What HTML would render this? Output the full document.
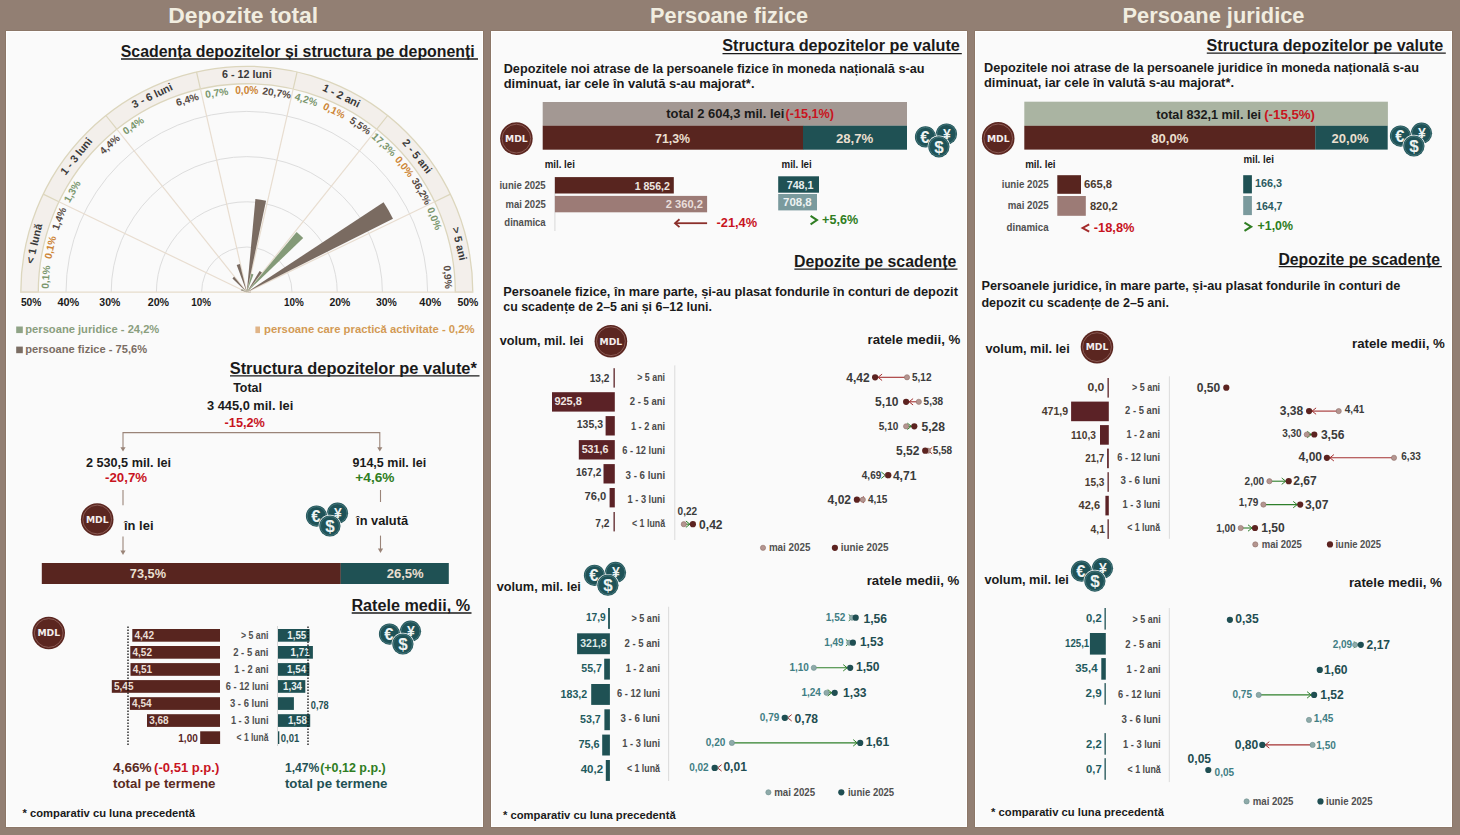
<!DOCTYPE html>
<html><head><meta charset="utf-8"><title>Depozite</title>
<style>html,body{margin:0;padding:0;width:1460px;height:835px;overflow:hidden;background:#927f73}
svg{display:block} text{font-family:'Liberation Sans', Arial, sans-serif;font-weight:700}</style></head>
<body><svg width="1460" height="835" viewBox="0 0 1460 835">
<rect x="0.0" y="0.0" width="1460.0" height="835.0" fill="#927f73"/>
<rect x="5.5" y="30.5" width="478.0" height="797.0" fill="#86705f"/>
<rect x="6.0" y="31.0" width="477.0" height="796.0" fill="#ffffff"/>
<rect x="7.0" y="32.0" width="475.0" height="794.0" fill="#fafafa"/>
<rect x="490.5" y="30.5" width="477.0" height="797.0" fill="#86705f"/>
<rect x="491.0" y="31.0" width="476.0" height="796.0" fill="#ffffff"/>
<rect x="492.0" y="32.0" width="474.0" height="794.0" fill="#fafafa"/>
<rect x="974.5" y="30.5" width="478.0" height="797.0" fill="#86705f"/>
<rect x="975.0" y="31.0" width="477.0" height="796.0" fill="#ffffff"/>
<rect x="976.0" y="32.0" width="475.0" height="794.0" fill="#fafafa"/>
<text x="243.2" y="22.7" font-size="21.5" fill="#f1ede0" text-anchor="middle" textLength="150.0" lengthAdjust="spacingAndGlyphs">Depozite total</text>
<text x="729.1" y="22.7" font-size="21.5" fill="#f1ede0" text-anchor="middle" textLength="158.0" lengthAdjust="spacingAndGlyphs">Persoane fizice</text>
<text x="1213.5" y="22.7" font-size="21.5" fill="#f1ede0" text-anchor="middle" textLength="182.0" lengthAdjust="spacingAndGlyphs">Persoane juridice</text>
<text x="120.7" y="56.8" font-size="16" fill="#1a1a1a" textLength="354.1" lengthAdjust="spacingAndGlyphs">Scadența depozitelor și structura pe deponenți</text>
<line x1="121.0" y1="59.0" x2="478.0" y2="59.0" stroke="#1a1a1a" stroke-width="1.3"/>
<path d="M20.8,292.2 A226.0,226.0 0 0 1 472.8,292.2 L455.3,292.2 A208.5,208.5 0 0 0 38.3,292.2 Z" fill="#f3efeb" stroke="#dcd6bd" stroke-width="1.3"/>
<line x1="58.9" y1="201.7" x2="43.2" y2="194.1" stroke="#dcd6bd" stroke-width="1.2"/>
<line x1="116.8" y1="129.2" x2="105.9" y2="115.5" stroke="#dcd6bd" stroke-width="1.2"/>
<line x1="200.4" y1="88.9" x2="196.5" y2="71.9" stroke="#dcd6bd" stroke-width="1.2"/>
<line x1="293.2" y1="88.9" x2="297.1" y2="71.9" stroke="#dcd6bd" stroke-width="1.2"/>
<line x1="376.8" y1="129.2" x2="387.7" y2="115.5" stroke="#dcd6bd" stroke-width="1.2"/>
<line x1="434.7" y1="201.7" x2="450.4" y2="194.1" stroke="#dcd6bd" stroke-width="1.2"/>
<path d="M201.6,292.2 A45.2,45.2 0 0 1 292.0,292.2" fill="none" stroke="#dddddd" stroke-width="1"/>
<path d="M156.4,292.2 A90.4,90.4 0 0 1 337.2,292.2" fill="none" stroke="#dddddd" stroke-width="1"/>
<path d="M111.2,292.2 A135.6,135.6 0 0 1 382.4,292.2" fill="none" stroke="#dddddd" stroke-width="1"/>
<path d="M66.0,292.2 A180.8,180.8 0 0 1 427.6,292.2" fill="none" stroke="#dddddd" stroke-width="1"/>
<line x1="246.8" y1="292.2" x2="58.9" y2="201.7" stroke="#e8ddd0" stroke-width="1.2"/>
<line x1="246.8" y1="292.2" x2="116.8" y2="129.2" stroke="#e8ddd0" stroke-width="1.2"/>
<line x1="246.8" y1="292.2" x2="200.4" y2="88.9" stroke="#e8ddd0" stroke-width="1.2"/>
<line x1="246.8" y1="292.2" x2="293.2" y2="88.9" stroke="#e8ddd0" stroke-width="1.2"/>
<line x1="246.8" y1="292.2" x2="376.8" y2="129.2" stroke="#e8ddd0" stroke-width="1.2"/>
<line x1="246.8" y1="292.2" x2="434.7" y2="201.7" stroke="#e8ddd0" stroke-width="1.2"/>
<line x1="20.5" y1="292.2" x2="473.0" y2="292.2" stroke="#e6dccb" stroke-width="1.2"/>
<path d="M246.8,292.2 L246.35,292.19 A0.45,0.45 0 0 1 246.35,292.14 Z" fill="#849a78"/>
<path d="M246.8,292.2 L246.35,292.12 A0.45,0.45 0 0 1 246.37,292.07 Z" fill="#d7a56a"/>
<path d="M246.8,292.2 L240.79,290.23 A6.33,6.33 0 0 1 241.05,289.55 Z" fill="#7a6b61"/>
<path d="M246.8,292.2 L241.55,289.56 A5.88,5.88 0 0 1 241.89,288.97 Z" fill="#849a78"/>
<path d="M246.8,292.2 L232.46,278.42 A19.89,19.89 0 0 1 234.13,276.87 Z" fill="#7a6b61"/>
<path d="M246.8,292.2 L245.70,290.77 A1.81,1.81 0 0 1 245.87,290.65 Z" fill="#849a78"/>
<path d="M246.8,292.2 L236.70,265.09 A28.93,28.93 0 0 1 239.88,264.11 Z" fill="#7a6b61"/>
<path d="M246.8,292.2 L246.15,289.10 A3.16,3.16 0 0 1 246.51,289.05 Z" fill="#849a78"/>
<path d="M246.8,292.2 L255.40,199.03 A93.56,93.56 0 0 1 266.05,200.64 Z" fill="#7a6b61"/>
<path d="M246.8,292.2 L251.34,273.77 A18.98,18.98 0 0 1 253.43,274.41 Z" fill="#849a78"/>
<path d="M246.8,292.2 L246.97,291.78 A0.45,0.45 0 0 1 247.02,291.80 Z" fill="#d7a56a"/>
<path d="M246.8,292.2 L259.60,270.89 A24.86,24.86 0 0 1 261.96,272.50 Z" fill="#7a6b61"/>
<path d="M246.8,292.2 L296.60,231.91 A78.20,78.20 0 0 1 303.20,238.03 Z" fill="#849a78"/>
<path d="M246.8,292.2 L383.56,202.37 A163.62,163.62 0 0 1 392.98,218.68 Z" fill="#7a6b61"/>
<path d="M246.8,292.2 L250.83,291.66 A4.07,4.07 0 0 1 250.87,292.13 Z" fill="#7a6b61"/>
<text x="0" y="3.4" font-size="10.2" fill="#7b976e" text-anchor="middle" transform="translate(45.9,277.1) rotate(-85.7)">0,1%</text>
<text x="0" y="3.4" font-size="10.2" fill="#cd8536" text-anchor="middle" transform="translate(50.4,247.4) rotate(-77.1)">0,1%</text>
<text x="0" y="3.4" font-size="10.2" fill="#574b44" text-anchor="middle" transform="translate(59.2,218.6) rotate(-68.6)">1,4%</text>
<text x="0" y="3.4" font-size="10.2" fill="#7b976e" text-anchor="middle" transform="translate(72.3,191.4) rotate(-60.0)">1,3%</text>
<text x="0" y="3.4" font-size="10.2" fill="#574b44" text-anchor="middle" transform="translate(109.7,144.5) rotate(-42.9)">4,4%</text>
<text x="0" y="3.4" font-size="10.2" fill="#7b976e" text-anchor="middle" transform="translate(133.3,125.7) rotate(-34.3)">0,4%</text>
<text x="0" y="3.4" font-size="10.2" fill="#574b44" text-anchor="middle" transform="translate(187.4,99.7) rotate(-17.1)">6,4%</text>
<text x="0" y="3.4" font-size="10.2" fill="#7b976e" text-anchor="middle" transform="translate(216.8,93.0) rotate(-8.6)">0,7%</text>
<text x="0" y="3.4" font-size="10.2" fill="#cd8536" text-anchor="middle" transform="translate(246.8,90.7) rotate(0.0)">0,0%</text>
<text x="0" y="3.4" font-size="10.2" fill="#574b44" text-anchor="middle" transform="translate(276.8,93.0) rotate(8.6)">20,7%</text>
<text x="0" y="3.4" font-size="10.2" fill="#7b976e" text-anchor="middle" transform="translate(306.2,99.7) rotate(17.1)">4,2%</text>
<text x="0" y="3.4" font-size="10.2" fill="#cd8536" text-anchor="middle" transform="translate(334.2,110.7) rotate(25.7)">0,1%</text>
<text x="0" y="3.4" font-size="10.2" fill="#574b44" text-anchor="middle" transform="translate(360.3,125.7) rotate(34.3)">5,5%</text>
<text x="0" y="3.4" font-size="10.2" fill="#7b976e" text-anchor="middle" transform="translate(383.9,144.5) rotate(42.9)">17,3%</text>
<text x="0" y="3.4" font-size="10.2" fill="#cd8536" text-anchor="middle" transform="translate(404.3,166.6) rotate(51.4)">0,0%</text>
<text x="0" y="3.4" font-size="10.2" fill="#574b44" text-anchor="middle" transform="translate(421.3,191.4) rotate(60.0)">36,2%</text>
<text x="0" y="3.4" font-size="10.2" fill="#7b976e" text-anchor="middle" transform="translate(434.4,218.6) rotate(68.6)">0,0%</text>
<text x="0" y="3.4" font-size="10.2" fill="#574b44" text-anchor="middle" transform="translate(447.7,277.1) rotate(85.7)">0,9%</text>
<text x="0" y="3.8" font-size="10.8" fill="#3a3a3a" text-anchor="middle" transform="translate(34.1,243.6) rotate(-77.1)">&lt; 1 lună</text>
<text x="0" y="3.8" font-size="10.8" fill="#3a3a3a" text-anchor="middle" transform="translate(76.2,156.2) rotate(-51.4)">1 - 3 luni</text>
<text x="0" y="3.8" font-size="10.8" fill="#3a3a3a" text-anchor="middle" transform="translate(152.1,95.6) rotate(-25.7)">3 - 6 luni</text>
<text x="0" y="3.8" font-size="10.8" fill="#3a3a3a" text-anchor="middle" transform="translate(246.8,74.0) rotate(0.0)">6 - 12 luni</text>
<text x="0" y="3.8" font-size="10.8" fill="#3a3a3a" text-anchor="middle" transform="translate(341.5,95.6) rotate(25.7)">1 - 2 ani</text>
<text x="0" y="3.8" font-size="10.8" fill="#3a3a3a" text-anchor="middle" transform="translate(417.4,156.2) rotate(51.4)">2 - 5 ani</text>
<text x="0" y="3.8" font-size="10.8" fill="#3a3a3a" text-anchor="middle" transform="translate(459.5,243.6) rotate(77.1)">&gt; 5 ani</text>
<text x="20.9" y="305.8" font-size="10" fill="#1a1a1a" textLength="20.5" lengthAdjust="spacingAndGlyphs">50%</text>
<text x="57.4" y="305.8" font-size="10" fill="#1a1a1a" textLength="21.8" lengthAdjust="spacingAndGlyphs">40%</text>
<text x="99.3" y="305.8" font-size="10" fill="#1a1a1a" textLength="21.0" lengthAdjust="spacingAndGlyphs">30%</text>
<text x="147.7" y="305.8" font-size="10" fill="#1a1a1a" textLength="21.4" lengthAdjust="spacingAndGlyphs">20%</text>
<text x="191.3" y="305.8" font-size="10" fill="#1a1a1a" textLength="19.8" lengthAdjust="spacingAndGlyphs">10%</text>
<text x="284.1" y="305.8" font-size="10" fill="#1a1a1a" textLength="19.8" lengthAdjust="spacingAndGlyphs">10%</text>
<text x="329.4" y="305.8" font-size="10" fill="#1a1a1a" textLength="20.9" lengthAdjust="spacingAndGlyphs">20%</text>
<text x="375.9" y="305.8" font-size="10" fill="#1a1a1a" textLength="20.9" lengthAdjust="spacingAndGlyphs">30%</text>
<text x="419.3" y="305.8" font-size="10" fill="#1a1a1a" textLength="21.9" lengthAdjust="spacingAndGlyphs">40%</text>
<text x="457.4" y="305.8" font-size="10" fill="#1a1a1a" textLength="21.0" lengthAdjust="spacingAndGlyphs">50%</text>
<rect x="16.2" y="326.5" width="6.6" height="6.6" fill="#8fa386"/>
<text x="25.3" y="332.8" font-size="10.5" fill="#8a9e7e" textLength="134.0" lengthAdjust="spacingAndGlyphs">persoane juridice - 24,2%</text>
<rect x="16.2" y="346.6" width="6.6" height="6.6" fill="#7b6d63"/>
<text x="25.3" y="352.8" font-size="10.5" fill="#7b6d63" textLength="121.8" lengthAdjust="spacingAndGlyphs">persoane fizice - 75,6%</text>
<rect x="255.4" y="326.5" width="4.6" height="6.6" fill="#e0b487"/>
<text x="264.1" y="332.8" font-size="10.5" fill="#d39a55" textLength="210.4" lengthAdjust="spacingAndGlyphs">persoane care practică activitate - 0,2%</text>
<text x="229.7" y="373.6" font-size="16" fill="#1a1a1a" textLength="247.2" lengthAdjust="spacingAndGlyphs">Structura depozitelor pe valute*</text>
<line x1="230.0" y1="375.8" x2="479.5" y2="375.8" stroke="#1a1a1a" stroke-width="1.3"/>
<text x="233.2" y="391.6" font-size="12.5" fill="#1a1a1a" textLength="28.8" lengthAdjust="spacingAndGlyphs">Total</text>
<text x="207.0" y="410.4" font-size="12.5" fill="#1a1a1a" textLength="86.3" lengthAdjust="spacingAndGlyphs">3 445,0 mil. lei</text>
<text x="224.6" y="426.5" font-size="12.5" fill="#c8141e" textLength="40.3" lengthAdjust="spacingAndGlyphs">-15,2%</text>
<path d="M123,449 L123,432.6 L379.8,432.6 L379.8,449" fill="none" stroke="#9a8478" stroke-width="1.1"/>
<path d="M120.4,447.2 L125.6,447.2 L123.0,451.6 Z" fill="#9a8478"/>
<path d="M377.2,447.2 L382.4,447.2 L379.8,451.6 Z" fill="#9a8478"/>
<text x="85.9" y="467.0" font-size="12.5" fill="#1a1a1a" textLength="85.2" lengthAdjust="spacingAndGlyphs">2 530,5 mil. lei</text>
<text x="105.0" y="481.6" font-size="12.5" fill="#c8141e" textLength="42.1" lengthAdjust="spacingAndGlyphs">-20,7%</text>
<text x="352.5" y="467.0" font-size="12.5" fill="#1a1a1a" textLength="73.7" lengthAdjust="spacingAndGlyphs">914,5 mil. lei</text>
<text x="355.3" y="481.6" font-size="12.5" fill="#2f7d22" textLength="39.2" lengthAdjust="spacingAndGlyphs">+4,6%</text>
<line x1="123.0" y1="490.0" x2="123.0" y2="505.3" stroke="#9a8478" stroke-width="1.1"/>
<line x1="380.5" y1="490.0" x2="380.5" y2="502.0" stroke="#9a8478" stroke-width="1.1"/>
<line x1="123.0" y1="536.5" x2="123.0" y2="551.0" stroke="#9a8478" stroke-width="1.1"/>
<path d="M120.4,550.6 L125.6,550.6 L123.0,555.0 Z" fill="#9a8478"/>
<line x1="380.5" y1="535.6" x2="380.5" y2="549.0" stroke="#9a8478" stroke-width="1.1"/>
<path d="M377.9,548.6 L383.1,548.6 L380.5,553.0 Z" fill="#9a8478"/>
<circle cx="97.2" cy="519.5" r="16.3" fill="#5b2620"/>
<circle cx="97.2" cy="519.5" r="14.4" fill="none" stroke="#8d5f58" stroke-width="0.9"/>
<text x="97.2" y="522.8" font-size="8.9" fill="#f4eeee" text-anchor="middle" textLength="22.6" lengthAdjust="spacingAndGlyphs" style="font-family:'DejaVu Sans',sans-serif;font-weight:700">MDL</text>
<text x="124.0" y="530.4" font-size="12.5" fill="#1a1a1a" textLength="29.5" lengthAdjust="spacingAndGlyphs">în lei</text>
<circle cx="337.5" cy="513.2" r="11.3" fill="#fafafa"/>
<circle cx="337.5" cy="513.2" r="10.6" fill="#1f5257"/>
<circle cx="337.5" cy="513.2" r="9.5" fill="none" stroke="#4b7c80" stroke-width="0.8"/>
<text x="337.8" y="517.8" font-size="14" fill="#eef3f2" text-anchor="middle">¥</text>
<circle cx="316.5" cy="516.1" r="11.3" fill="#fafafa"/>
<circle cx="316.5" cy="516.1" r="10.6" fill="#1f5257"/>
<circle cx="316.5" cy="516.1" r="9.5" fill="none" stroke="#4b7c80" stroke-width="0.8"/>
<text x="315.8" y="522.0" font-size="16.5" fill="#eef3f2" text-anchor="middle">€</text>
<circle cx="329.9" cy="526.0" r="11.3" fill="#fafafa"/>
<circle cx="329.9" cy="526.0" r="10.6" fill="#1f5257"/>
<circle cx="329.9" cy="526.0" r="9.5" fill="none" stroke="#4b7c80" stroke-width="0.8"/>
<text x="329.9" y="531.9" font-size="17" fill="#eef3f2" text-anchor="middle" font-weight="400">$</text>
<text x="356.1" y="525.3" font-size="12.5" fill="#1a1a1a" textLength="52.0" lengthAdjust="spacingAndGlyphs">în valută</text>
<rect x="41.8" y="563.0" width="299.0" height="21.0" fill="#58251f"/>
<rect x="340.7" y="563.0" width="108.1" height="21.0" fill="#1f5154"/>
<text x="129.8" y="578.4" font-size="12.5" fill="#eadfcf" textLength="36.2" lengthAdjust="spacingAndGlyphs">73,5%</text>
<text x="386.7" y="578.4" font-size="12.5" fill="#eadfcf" textLength="37.0" lengthAdjust="spacingAndGlyphs">26,5%</text>
<text x="351.4" y="610.8" font-size="16" fill="#1a1a1a" textLength="118.7" lengthAdjust="spacingAndGlyphs">Ratele medii, %</text>
<line x1="351.7" y1="613.0" x2="471.5" y2="613.0" stroke="#1a1a1a" stroke-width="1.3"/>
<circle cx="48.7" cy="633.0" r="16.3" fill="#5b2620"/>
<circle cx="48.7" cy="633.0" r="14.4" fill="none" stroke="#8d5f58" stroke-width="0.9"/>
<text x="48.7" y="636.3" font-size="8.9" fill="#f4eeee" text-anchor="middle" textLength="22.6" lengthAdjust="spacingAndGlyphs" style="font-family:'DejaVu Sans',sans-serif;font-weight:700">MDL</text>
<circle cx="410.5" cy="631.2" r="11.3" fill="#fafafa"/>
<circle cx="410.5" cy="631.2" r="10.6" fill="#1f5257"/>
<circle cx="410.5" cy="631.2" r="9.5" fill="none" stroke="#4b7c80" stroke-width="0.8"/>
<text x="410.8" y="635.8" font-size="14" fill="#eef3f2" text-anchor="middle">¥</text>
<circle cx="389.5" cy="634.1" r="11.3" fill="#fafafa"/>
<circle cx="389.5" cy="634.1" r="10.6" fill="#1f5257"/>
<circle cx="389.5" cy="634.1" r="9.5" fill="none" stroke="#4b7c80" stroke-width="0.8"/>
<text x="388.8" y="640.0" font-size="16.5" fill="#eef3f2" text-anchor="middle">€</text>
<circle cx="402.9" cy="644.0" r="11.3" fill="#fafafa"/>
<circle cx="402.9" cy="644.0" r="10.6" fill="#1f5257"/>
<circle cx="402.9" cy="644.0" r="9.5" fill="none" stroke="#4b7c80" stroke-width="0.8"/>
<text x="402.9" y="649.9" font-size="17" fill="#eef3f2" text-anchor="middle" font-weight="400">$</text>
<line x1="277.5" y1="626.0" x2="277.5" y2="746.0" stroke="#cfcfcf" stroke-width="0.8"/>
<rect x="132.3" y="629.0" width="87.7" height="12.7" fill="#58251f"/>
<text x="134.5" y="638.9" font-size="10.8" fill="#eadfd6" textLength="19.5" lengthAdjust="spacingAndGlyphs">4,42</text>
<text x="268.5" y="638.8" font-size="10.8" fill="#505050" text-anchor="end" textLength="27.5" lengthAdjust="spacingAndGlyphs">&gt; 5 ani</text>
<rect x="278.0" y="629.0" width="31.6" height="12.7" fill="#1f5154"/>
<text x="306.3" y="638.9" font-size="10.8" fill="#eaf0ef" text-anchor="end" textLength="19.0" lengthAdjust="spacingAndGlyphs">1,55</text>
<rect x="130.3" y="646.0" width="89.7" height="12.7" fill="#58251f"/>
<text x="132.5" y="655.9" font-size="10.8" fill="#eadfd6" textLength="19.5" lengthAdjust="spacingAndGlyphs">4,52</text>
<text x="268.5" y="655.8" font-size="10.8" fill="#505050" text-anchor="end" textLength="35.3" lengthAdjust="spacingAndGlyphs">2 - 5 ani</text>
<rect x="278.0" y="646.0" width="34.9" height="12.7" fill="#1f5154"/>
<text x="309.6" y="655.9" font-size="10.8" fill="#eaf0ef" text-anchor="end" textLength="19.0" lengthAdjust="spacingAndGlyphs">1,71</text>
<rect x="130.5" y="663.1" width="89.5" height="12.7" fill="#58251f"/>
<text x="132.7" y="673.0" font-size="10.8" fill="#eadfd6" textLength="19.5" lengthAdjust="spacingAndGlyphs">4,51</text>
<text x="268.5" y="672.9" font-size="10.8" fill="#505050" text-anchor="end" textLength="34.3" lengthAdjust="spacingAndGlyphs">1 - 2 ani</text>
<rect x="278.0" y="663.1" width="31.4" height="12.7" fill="#1f5154"/>
<text x="306.1" y="673.0" font-size="10.8" fill="#eaf0ef" text-anchor="end" textLength="19.0" lengthAdjust="spacingAndGlyphs">1,54</text>
<rect x="111.8" y="680.1" width="108.2" height="12.7" fill="#58251f"/>
<text x="114.0" y="690.0" font-size="10.8" fill="#eadfd6" textLength="19.5" lengthAdjust="spacingAndGlyphs">5,45</text>
<text x="268.5" y="689.9" font-size="10.8" fill="#505050" text-anchor="end" textLength="42.7" lengthAdjust="spacingAndGlyphs">6 - 12 luni</text>
<rect x="278.0" y="680.1" width="27.3" height="12.7" fill="#1f5154"/>
<text x="302.0" y="690.0" font-size="10.8" fill="#eaf0ef" text-anchor="end" textLength="19.0" lengthAdjust="spacingAndGlyphs">1,34</text>
<rect x="129.9" y="697.2" width="90.1" height="12.7" fill="#58251f"/>
<text x="132.1" y="707.1" font-size="10.8" fill="#eadfd6" textLength="19.5" lengthAdjust="spacingAndGlyphs">4,54</text>
<text x="268.5" y="707.0" font-size="10.8" fill="#505050" text-anchor="end" textLength="38.6" lengthAdjust="spacingAndGlyphs">3 - 6 luni</text>
<rect x="278.0" y="697.2" width="15.9" height="12.7" fill="#1f5154"/>
<text x="310.8" y="708.7" font-size="10.8" fill="#1f5154" textLength="17.9" lengthAdjust="spacingAndGlyphs">0,78</text>
<rect x="147.0" y="714.2" width="73.0" height="12.7" fill="#58251f"/>
<text x="149.2" y="724.1" font-size="10.8" fill="#eadfd6" textLength="19.5" lengthAdjust="spacingAndGlyphs">3,68</text>
<text x="268.5" y="724.0" font-size="10.8" fill="#505050" text-anchor="end" textLength="37.6" lengthAdjust="spacingAndGlyphs">1 - 3 luni</text>
<rect x="278.0" y="714.2" width="32.2" height="12.7" fill="#1f5154"/>
<text x="306.9" y="724.1" font-size="10.8" fill="#eaf0ef" text-anchor="end" textLength="19.0" lengthAdjust="spacingAndGlyphs">1,58</text>
<rect x="200.2" y="731.3" width="19.9" height="12.7" fill="#58251f"/>
<text x="197.8" y="741.5" font-size="10.8" fill="#58251f" text-anchor="end" textLength="19.5" lengthAdjust="spacingAndGlyphs">1,00</text>
<text x="268.5" y="741.1" font-size="10.8" fill="#505050" text-anchor="end" textLength="31.9" lengthAdjust="spacingAndGlyphs">&lt; 1 lună</text>
<rect x="278.0" y="731.3" width="1.3" height="12.7" fill="#1f5154"/>
<text x="280.8" y="741.5" font-size="10.8" fill="#1f5154" textLength="18.4" lengthAdjust="spacingAndGlyphs">0,01</text>
<line x1="128" y1="626.5" x2="128" y2="746" stroke="#111" stroke-width="1.3" stroke-dasharray="1.4,1.6"/>
<line x1="308" y1="626.5" x2="308" y2="746" stroke="#111" stroke-width="1.3" stroke-dasharray="1.4,1.6"/>
<text x="113.1" y="772.1" font-size="13.5" fill="#5a2a22" textLength="38.4" lengthAdjust="spacingAndGlyphs">4,66%</text>
<text x="154.1" y="772.1" font-size="13.5" fill="#c8141e" textLength="65.2" lengthAdjust="spacingAndGlyphs">(-0,51 p.p.)</text>
<text x="113.1" y="788.3" font-size="13.5" fill="#5a2a22" textLength="102.4" lengthAdjust="spacingAndGlyphs">total pe termene</text>
<text x="284.9" y="772.1" font-size="13.5" fill="#1f5154" textLength="34.4" lengthAdjust="spacingAndGlyphs">1,47%</text>
<text x="320.2" y="772.1" font-size="13.5" fill="#2f7d22" textLength="65.5" lengthAdjust="spacingAndGlyphs">(+0,12 p.p.)</text>
<text x="284.9" y="788.3" font-size="13.5" fill="#1f5154" textLength="102.6" lengthAdjust="spacingAndGlyphs">total pe termene</text>
<text x="22.5" y="816.5" font-size="10.8" fill="#1a1a1a" textLength="172.6" lengthAdjust="spacingAndGlyphs">* comparativ cu luna precedentă</text>
<text x="722.2" y="51.4" font-size="16" fill="#1a1a1a" textLength="237.6" lengthAdjust="spacingAndGlyphs">Structura depozitelor pe valute</text>
<line x1="722.5" y1="53.6" x2="961.8" y2="53.6" stroke="#1a1a1a" stroke-width="1.3"/>
<text x="503.7" y="73.0" font-size="12.5" fill="#1a1a1a" textLength="420.8" lengthAdjust="spacingAndGlyphs">Depozitele noi atrase de la persoanele fizice în moneda națională s-au</text>
<text x="503.7" y="88.4" font-size="12.5" fill="#1a1a1a" textLength="250.8" lengthAdjust="spacingAndGlyphs">diminuat, iar cele în valută s-au majorat*.</text>
<rect x="542.7" y="102.0" width="364.3" height="23.8" fill="#a39893"/>
<text x="666.3" y="118.2" font-size="12.5" fill="#1a1a1a" textLength="118.0" lengthAdjust="spacingAndGlyphs">total 2 604,3 mil. lei</text>
<text x="785.5" y="118.2" font-size="12.5" fill="#c8141e" textLength="48.4" lengthAdjust="spacingAndGlyphs">(-15,1%)</text>
<rect x="542.7" y="125.7" width="260.5" height="24.0" fill="#58251f"/>
<rect x="803.0" y="125.7" width="104.0" height="24.0" fill="#1f5154"/>
<text x="655.0" y="143.2" font-size="12.5" fill="#eadfcf" textLength="35.1" lengthAdjust="spacingAndGlyphs">71,3%</text>
<text x="835.9" y="143.2" font-size="12.5" fill="#eadfcf" textLength="37.4" lengthAdjust="spacingAndGlyphs">28,7%</text>
<circle cx="516.4" cy="138.6" r="16.3" fill="#5b2620"/>
<circle cx="516.4" cy="138.6" r="14.4" fill="none" stroke="#8d5f58" stroke-width="0.9"/>
<text x="516.4" y="141.9" font-size="8.9" fill="#f4eeee" text-anchor="middle" textLength="22.6" lengthAdjust="spacingAndGlyphs" style="font-family:'DejaVu Sans',sans-serif;font-weight:700">MDL</text>
<circle cx="946.5" cy="134.0" r="11.3" fill="#fafafa"/>
<circle cx="946.5" cy="134.0" r="10.6" fill="#1f5257"/>
<circle cx="946.5" cy="134.0" r="9.5" fill="none" stroke="#4b7c80" stroke-width="0.8"/>
<text x="946.8" y="138.6" font-size="14" fill="#eef3f2" text-anchor="middle">¥</text>
<circle cx="925.5" cy="136.9" r="11.3" fill="#fafafa"/>
<circle cx="925.5" cy="136.9" r="10.6" fill="#1f5257"/>
<circle cx="925.5" cy="136.9" r="9.5" fill="none" stroke="#4b7c80" stroke-width="0.8"/>
<text x="924.8" y="142.8" font-size="16.5" fill="#eef3f2" text-anchor="middle">€</text>
<circle cx="938.9" cy="146.8" r="11.3" fill="#fafafa"/>
<circle cx="938.9" cy="146.8" r="10.6" fill="#1f5257"/>
<circle cx="938.9" cy="146.8" r="9.5" fill="none" stroke="#4b7c80" stroke-width="0.8"/>
<text x="938.9" y="152.7" font-size="17" fill="#eef3f2" text-anchor="middle" font-weight="400">$</text>
<text x="544.7" y="167.5" font-size="10" fill="#1a1a1a" textLength="30.2" lengthAdjust="spacingAndGlyphs">mil. lei</text>
<text x="781.5" y="167.5" font-size="10" fill="#1a1a1a" textLength="30.2" lengthAdjust="spacingAndGlyphs">mil. lei</text>
<text x="499.4" y="188.8" font-size="10.5" fill="#505050" textLength="46.3" lengthAdjust="spacingAndGlyphs">iunie 2025</text>
<text x="505.6" y="207.8" font-size="10.5" fill="#505050" textLength="40.1" lengthAdjust="spacingAndGlyphs">mai 2025</text>
<text x="504.3" y="225.8" font-size="10.5" fill="#505050" textLength="41.4" lengthAdjust="spacingAndGlyphs">dinamica</text>
<line x1="554.9" y1="177.0" x2="554.9" y2="231.0" stroke="#d0d0d0" stroke-width="0.8"/>
<rect x="554.9" y="177.1" width="118.9" height="16.4" fill="#58251f"/>
<text x="634.7" y="190.1" font-size="11.5" fill="#efe6e0" textLength="35.2" lengthAdjust="spacingAndGlyphs">1 856,2</text>
<rect x="554.9" y="195.9" width="152.2" height="16.4" fill="#9c7b76"/>
<text x="665.7" y="208.4" font-size="11.5" fill="#e9dedb" textLength="37.2" lengthAdjust="spacingAndGlyphs">2 360,2</text>
<line x1="676.0" y1="223.2" x2="707.1" y2="223.2" stroke="#8b2f2a" stroke-width="1.8"/>
<path d="M679.5,219.3 L675,223.2 L679.5,227.1" fill="none" stroke="#8b2f2a" stroke-width="1.8"/>
<text x="716.5" y="226.6" font-size="13.5" fill="#c8141e" textLength="40.6" lengthAdjust="spacingAndGlyphs">-21,4%</text>
<rect x="778.2" y="176.3" width="40.8" height="16.4" fill="#1f5154"/>
<text x="786.7" y="188.8" font-size="11.5" fill="#e8efee" textLength="26.8" lengthAdjust="spacingAndGlyphs">748,1</text>
<rect x="778.2" y="194.0" width="38.8" height="16.4" fill="#7a9a9d"/>
<text x="783.1" y="205.8" font-size="11.5" fill="#eef2f2" textLength="28.6" lengthAdjust="spacingAndGlyphs">708,8</text>
<path d="M810.6,215.8 L817,220.1 L810.6,224.4" fill="none" stroke="#2f7d22" stroke-width="2"/>
<text x="822.1" y="224.0" font-size="13.5" fill="#2f7d22" textLength="36.0" lengthAdjust="spacingAndGlyphs">+5,6%</text>
<text x="794.1" y="267.0" font-size="16" fill="#1a1a1a" textLength="162.2" lengthAdjust="spacingAndGlyphs">Depozite pe scadențe</text>
<line x1="794.4" y1="269.2" x2="957.5" y2="269.2" stroke="#1a1a1a" stroke-width="1.3"/>
<text x="503.3" y="296.0" font-size="12.5" fill="#1a1a1a" textLength="454.6" lengthAdjust="spacingAndGlyphs">Persoanele fizice, în mare parte, și-au plasat fondurile în conturi de depozit</text>
<text x="503.3" y="311.0" font-size="12.5" fill="#1a1a1a" textLength="208.7" lengthAdjust="spacingAndGlyphs">cu scadențe de 2–5 ani și 6–12 luni.</text>
<text x="499.7" y="344.7" font-size="12.5" fill="#1a1a1a" textLength="83.8" lengthAdjust="spacingAndGlyphs">volum, mil. lei</text>
<circle cx="610.9" cy="341.2" r="16.3" fill="#5b2620"/>
<circle cx="610.9" cy="341.2" r="14.4" fill="none" stroke="#8d5f58" stroke-width="0.9"/>
<text x="610.9" y="344.5" font-size="8.9" fill="#f4eeee" text-anchor="middle" textLength="22.6" lengthAdjust="spacingAndGlyphs" style="font-family:'DejaVu Sans',sans-serif;font-weight:700">MDL</text>
<text x="867.5" y="343.6" font-size="12.5" fill="#1a1a1a" textLength="92.9" lengthAdjust="spacingAndGlyphs">ratele medii, %</text>
<line x1="674.8" y1="365.4" x2="674.8" y2="540.0" stroke="#d8d8d8" stroke-width="0.9"/>
<rect x="613.5" y="368.2" width="1.3" height="19.4" fill="#5b2226"/>
<rect x="552.0" y="392.2" width="62.8" height="19.4" fill="#5b2226"/>
<rect x="605.6" y="416.1" width="9.2" height="19.4" fill="#5b2226"/>
<rect x="578.8" y="440.1" width="36.0" height="19.4" fill="#5b2226"/>
<rect x="603.5" y="464.1" width="11.3" height="19.4" fill="#5b2226"/>
<rect x="609.6" y="488.0" width="5.2" height="19.4" fill="#5b2226"/>
<rect x="613.5" y="512.0" width="1.3" height="19.4" fill="#5b2226"/>
<text x="637.2" y="381.0" font-size="10.8" fill="#4a4a4a" textLength="27.9" lengthAdjust="spacingAndGlyphs">&gt; 5 ani</text>
<text x="629.8" y="405.4" font-size="10.8" fill="#4a4a4a" textLength="35.3" lengthAdjust="spacingAndGlyphs">2 - 5 ani</text>
<text x="630.9" y="429.8" font-size="10.8" fill="#4a4a4a" textLength="34.2" lengthAdjust="spacingAndGlyphs">1 - 2 ani</text>
<text x="622.3" y="454.2" font-size="10.8" fill="#4a4a4a" textLength="42.8" lengthAdjust="spacingAndGlyphs">6 - 12 luni</text>
<text x="625.5" y="478.6" font-size="10.8" fill="#4a4a4a" textLength="39.6" lengthAdjust="spacingAndGlyphs">3 - 6 luni</text>
<text x="627.5" y="503.0" font-size="10.8" fill="#4a4a4a" textLength="37.6" lengthAdjust="spacingAndGlyphs">1 - 3 luni</text>
<text x="632.0" y="527.4" font-size="10.8" fill="#4a4a4a" textLength="33.1" lengthAdjust="spacingAndGlyphs">&lt; 1 lună</text>
<text x="589.7" y="382.2" font-size="11" fill="#3b3b3b" textLength="19.8" lengthAdjust="spacingAndGlyphs">13,2</text>
<text x="554.4" y="404.9" font-size="11" fill="#f0e6e2" textLength="27.5" lengthAdjust="spacingAndGlyphs">925,8</text>
<text x="576.8" y="427.9" font-size="11" fill="#3b3b3b" textLength="26.2" lengthAdjust="spacingAndGlyphs">135,3</text>
<text x="581.7" y="452.7" font-size="11" fill="#f0e6e2" textLength="26.7" lengthAdjust="spacingAndGlyphs">531,6</text>
<text x="575.9" y="476.0" font-size="11" fill="#3b3b3b" textLength="25.4" lengthAdjust="spacingAndGlyphs">167,2</text>
<text x="584.6" y="500.2" font-size="11" fill="#3b3b3b" textLength="21.7" lengthAdjust="spacingAndGlyphs">76,0</text>
<text x="595.3" y="526.5" font-size="11" fill="#3b3b3b" textLength="14.2" lengthAdjust="spacingAndGlyphs">7,2</text>
<line x1="907.0" y1="377.3" x2="877.6" y2="377.3" stroke="#a33030" stroke-width="1.1"/>
<path d="M882.1,374.1 L878.1,377.3 L882.1,380.5" fill="none" stroke="#a33030" stroke-width="1"/>
<circle cx="907.0" cy="377.3" r="2.6" fill="#b49590" stroke="#8f6e68" stroke-width="0.6"/>
<circle cx="875.1" cy="377.3" r="3.1" fill="#5c2320"/>
<text x="869.7" y="381.9" font-size="13" fill="#3b3b3b" text-anchor="end" textLength="23.5" lengthAdjust="spacingAndGlyphs">4,42</text>
<text x="912.0" y="380.9" font-size="10.8" fill="#3b3b3b" textLength="19.5" lengthAdjust="spacingAndGlyphs">5,12</text>
<line x1="918.8" y1="401.8" x2="908.6" y2="401.8" stroke="#a33030" stroke-width="1.1"/>
<path d="M913.1,398.6 L909.1,401.8 L913.1,405.0" fill="none" stroke="#a33030" stroke-width="1"/>
<circle cx="918.8" cy="401.8" r="2.6" fill="#b49590" stroke="#8f6e68" stroke-width="0.6"/>
<circle cx="906.1" cy="401.8" r="3.1" fill="#5c2320"/>
<text x="898.6" y="406.4" font-size="13" fill="#3b3b3b" text-anchor="end" textLength="23.5" lengthAdjust="spacingAndGlyphs">5,10</text>
<text x="923.6" y="405.4" font-size="10.8" fill="#3b3b3b" textLength="19.5" lengthAdjust="spacingAndGlyphs">5,38</text>
<line x1="906.1" y1="426.3" x2="911.8" y2="426.3" stroke="#2e7f2a" stroke-width="1.1"/>
<path d="M907.3,423.1 L911.3,426.3 L907.3,429.5" fill="none" stroke="#2e7f2a" stroke-width="1"/>
<circle cx="906.1" cy="426.3" r="2.6" fill="#b49590" stroke="#8f6e68" stroke-width="0.6"/>
<circle cx="914.3" cy="426.3" r="3.1" fill="#5c2320"/>
<text x="921.5" y="430.9" font-size="13" fill="#3b3b3b" textLength="23.5" lengthAdjust="spacingAndGlyphs">5,28</text>
<text x="898.3" y="429.9" font-size="10.8" fill="#3b3b3b" text-anchor="end" textLength="19.5" lengthAdjust="spacingAndGlyphs">5,10</text>
<line x1="927.9" y1="450.7" x2="927.7" y2="450.7" stroke="#a33030" stroke-width="1.1"/>
<path d="M932.2,447.5 L928.2,450.7 L932.2,453.9" fill="none" stroke="#a33030" stroke-width="1"/>
<circle cx="927.9" cy="450.7" r="2.6" fill="#b49590" stroke="#8f6e68" stroke-width="0.6"/>
<circle cx="925.2" cy="450.7" r="3.1" fill="#5c2320"/>
<text x="919.5" y="455.3" font-size="13" fill="#3b3b3b" text-anchor="end" textLength="23.5" lengthAdjust="spacingAndGlyphs">5,52</text>
<text x="932.7" y="454.3" font-size="10.8" fill="#3b3b3b" textLength="19.5" lengthAdjust="spacingAndGlyphs">5,58</text>
<line x1="887.4" y1="475.2" x2="885.8" y2="475.2" stroke="#2e7f2a" stroke-width="1.1"/>
<path d="M881.3,472.0 L885.3,475.2 L881.3,478.4" fill="none" stroke="#2e7f2a" stroke-width="1"/>
<circle cx="887.4" cy="475.2" r="2.6" fill="#b49590" stroke="#8f6e68" stroke-width="0.6"/>
<circle cx="888.3" cy="475.2" r="3.1" fill="#5c2320"/>
<text x="892.9" y="479.8" font-size="13" fill="#3b3b3b" textLength="23.5" lengthAdjust="spacingAndGlyphs">4,71</text>
<text x="881.3" y="478.8" font-size="10.8" fill="#3b3b3b" text-anchor="end" textLength="19.5" lengthAdjust="spacingAndGlyphs">4,69</text>
<line x1="862.8" y1="499.7" x2="859.4" y2="499.7" stroke="#a33030" stroke-width="1.1"/>
<path d="M863.9,496.5 L859.9,499.7 L863.9,502.9" fill="none" stroke="#a33030" stroke-width="1"/>
<circle cx="862.8" cy="499.7" r="2.6" fill="#b49590" stroke="#8f6e68" stroke-width="0.6"/>
<circle cx="856.9" cy="499.7" r="3.1" fill="#5c2320"/>
<text x="851.1" y="504.3" font-size="13" fill="#3b3b3b" text-anchor="end" textLength="23.5" lengthAdjust="spacingAndGlyphs">4,02</text>
<text x="867.9" y="503.3" font-size="10.8" fill="#3b3b3b" textLength="19.5" lengthAdjust="spacingAndGlyphs">4,15</text>
<line x1="683.8" y1="524.2" x2="690.4" y2="524.2" stroke="#2e7f2a" stroke-width="1.1"/>
<path d="M685.9,521.0 L689.9,524.2 L685.9,527.4" fill="none" stroke="#2e7f2a" stroke-width="1"/>
<circle cx="683.8" cy="524.2" r="2.6" fill="#b49590" stroke="#8f6e68" stroke-width="0.6"/>
<circle cx="692.9" cy="524.2" r="3.1" fill="#5c2320"/>
<text x="699.1" y="528.7" font-size="13" fill="#3b3b3b" textLength="23.5" lengthAdjust="spacingAndGlyphs">0,42</text>
<text x="677.6" y="514.8" font-size="10.8" fill="#3b3b3b" textLength="19.5" lengthAdjust="spacingAndGlyphs">0,22</text>
<circle cx="763.0" cy="547.8" r="2.6" fill="#b49590" stroke="#8f6e68" stroke-width="0.6"/>
<text x="768.9" y="551.3" font-size="10" fill="#505050" textLength="41.5" lengthAdjust="spacingAndGlyphs">mai 2025</text>
<circle cx="834.9" cy="547.8" r="3.1" fill="#5c2320"/>
<text x="840.8" y="551.3" font-size="10" fill="#505050" textLength="47.7" lengthAdjust="spacingAndGlyphs">iunie 2025</text>
<text x="496.7" y="591.0" font-size="12.5" fill="#1a1a1a" textLength="84.1" lengthAdjust="spacingAndGlyphs">volum, mil. lei</text>
<circle cx="615.5" cy="572.4" r="11.3" fill="#fafafa"/>
<circle cx="615.5" cy="572.4" r="10.6" fill="#1f5257"/>
<circle cx="615.5" cy="572.4" r="9.5" fill="none" stroke="#4b7c80" stroke-width="0.8"/>
<text x="615.8" y="577.0" font-size="14" fill="#eef3f2" text-anchor="middle">¥</text>
<circle cx="594.5" cy="575.3" r="11.3" fill="#fafafa"/>
<circle cx="594.5" cy="575.3" r="10.6" fill="#1f5257"/>
<circle cx="594.5" cy="575.3" r="9.5" fill="none" stroke="#4b7c80" stroke-width="0.8"/>
<text x="593.8" y="581.2" font-size="16.5" fill="#eef3f2" text-anchor="middle">€</text>
<circle cx="607.9" cy="585.2" r="11.3" fill="#fafafa"/>
<circle cx="607.9" cy="585.2" r="10.6" fill="#1f5257"/>
<circle cx="607.9" cy="585.2" r="9.5" fill="none" stroke="#4b7c80" stroke-width="0.8"/>
<text x="607.9" y="591.1" font-size="17" fill="#eef3f2" text-anchor="middle" font-weight="400">$</text>
<text x="866.7" y="585.1" font-size="12.5" fill="#1a1a1a" textLength="92.6" lengthAdjust="spacingAndGlyphs">ratele medii, %</text>
<line x1="668.6" y1="606.8" x2="668.6" y2="781.0" stroke="#d8d8d8" stroke-width="0.9"/>
<rect x="608.1" y="608.0" width="1.8" height="20.9" fill="#1f5154"/>
<rect x="577.1" y="633.3" width="32.8" height="20.9" fill="#1f5154"/>
<rect x="604.2" y="658.7" width="5.7" height="20.9" fill="#1f5154"/>
<rect x="591.2" y="684.0" width="18.7" height="20.9" fill="#1f5154"/>
<rect x="604.4" y="709.3" width="5.5" height="20.9" fill="#1f5154"/>
<rect x="602.2" y="734.6" width="7.7" height="20.9" fill="#1f5154"/>
<rect x="605.8" y="760.0" width="4.1" height="20.9" fill="#1f5154"/>
<text x="631.4" y="621.6" font-size="10.8" fill="#4a4a4a" textLength="28.6" lengthAdjust="spacingAndGlyphs">&gt; 5 ani</text>
<text x="624.6" y="646.6" font-size="10.8" fill="#4a4a4a" textLength="35.4" lengthAdjust="spacingAndGlyphs">2 - 5 ani</text>
<text x="625.7" y="671.7" font-size="10.8" fill="#4a4a4a" textLength="34.3" lengthAdjust="spacingAndGlyphs">1 - 2 ani</text>
<text x="617.1" y="696.7" font-size="10.8" fill="#4a4a4a" textLength="42.9" lengthAdjust="spacingAndGlyphs">6 - 12 luni</text>
<text x="620.5" y="721.7" font-size="10.8" fill="#4a4a4a" textLength="39.5" lengthAdjust="spacingAndGlyphs">3 - 6 luni</text>
<text x="622.3" y="746.8" font-size="10.8" fill="#4a4a4a" textLength="37.7" lengthAdjust="spacingAndGlyphs">1 - 3 luni</text>
<text x="626.9" y="771.8" font-size="10.8" fill="#4a4a4a" textLength="33.1" lengthAdjust="spacingAndGlyphs">&lt; 1 lună</text>
<text x="585.9" y="620.9" font-size="11" fill="#1f5a5e" textLength="19.9" lengthAdjust="spacingAndGlyphs">17,9</text>
<text x="580.2" y="647.1" font-size="11" fill="#dde8e8" textLength="26.3" lengthAdjust="spacingAndGlyphs">321,8</text>
<text x="581.3" y="672.1" font-size="11" fill="#1f5a5e" textLength="20.6" lengthAdjust="spacingAndGlyphs">55,7</text>
<text x="560.6" y="697.9" font-size="11" fill="#1f5a5e" textLength="26.6" lengthAdjust="spacingAndGlyphs">183,2</text>
<text x="580.0" y="722.9" font-size="11" fill="#1f5a5e" textLength="20.8" lengthAdjust="spacingAndGlyphs">53,7</text>
<text x="578.4" y="747.9" font-size="11" fill="#1f5a5e" textLength="21.3" lengthAdjust="spacingAndGlyphs">75,6</text>
<text x="580.7" y="773.0" font-size="11" fill="#1f5a5e" textLength="22.4" lengthAdjust="spacingAndGlyphs">40,2</text>
<line x1="852.0" y1="617.7" x2="853.2" y2="617.7" stroke="#2e7f2a" stroke-width="1.1"/>
<path d="M848.7,614.5 L852.7,617.7 L848.7,620.9" fill="none" stroke="#2e7f2a" stroke-width="1"/>
<circle cx="852.0" cy="617.7" r="2.6" fill="#8eaaa9" stroke="#6d8f8e" stroke-width="0.6"/>
<circle cx="855.7" cy="617.7" r="3.1" fill="#1f4e52"/>
<text x="863.5" y="622.8" font-size="13" fill="#1e4d51" textLength="23.5" lengthAdjust="spacingAndGlyphs">1,56</text>
<text x="845.3" y="620.9" font-size="10.8" fill="#3f7e84" text-anchor="end" textLength="19.5" lengthAdjust="spacingAndGlyphs">1,52</text>
<line x1="849.3" y1="642.7" x2="850.4" y2="642.7" stroke="#2e7f2a" stroke-width="1.1"/>
<path d="M845.9,639.5 L849.9,642.7 L845.9,645.9" fill="none" stroke="#2e7f2a" stroke-width="1"/>
<circle cx="849.3" cy="642.7" r="2.6" fill="#8eaaa9" stroke="#6d8f8e" stroke-width="0.6"/>
<circle cx="852.9" cy="642.7" r="3.1" fill="#1f4e52"/>
<text x="859.9" y="646.1" font-size="13" fill="#1e4d51" textLength="23.5" lengthAdjust="spacingAndGlyphs">1,53</text>
<text x="843.7" y="645.9" font-size="10.8" fill="#3f7e84" text-anchor="end" textLength="19.5" lengthAdjust="spacingAndGlyphs">1,49</text>
<line x1="813.8" y1="667.8" x2="847.7" y2="667.8" stroke="#2e7f2a" stroke-width="1.1"/>
<path d="M843.2,664.6 L847.2,667.8 L843.2,671.0" fill="none" stroke="#2e7f2a" stroke-width="1"/>
<circle cx="813.8" cy="667.8" r="2.6" fill="#8eaaa9" stroke="#6d8f8e" stroke-width="0.6"/>
<circle cx="850.2" cy="667.8" r="3.1" fill="#1f4e52"/>
<text x="856.0" y="671.0" font-size="13" fill="#1e4d51" textLength="23.5" lengthAdjust="spacingAndGlyphs">1,50</text>
<text x="808.9" y="671.0" font-size="10.8" fill="#3f7e84" text-anchor="end" textLength="19.5" lengthAdjust="spacingAndGlyphs">1,10</text>
<line x1="826.5" y1="692.8" x2="832.2" y2="692.8" stroke="#2e7f2a" stroke-width="1.1"/>
<path d="M827.7,689.6 L831.7,692.8 L827.7,696.0" fill="none" stroke="#2e7f2a" stroke-width="1"/>
<circle cx="826.5" cy="692.8" r="2.6" fill="#8eaaa9" stroke="#6d8f8e" stroke-width="0.6"/>
<circle cx="834.7" cy="692.8" r="3.1" fill="#1f4e52"/>
<text x="843.1" y="697.4" font-size="13" fill="#1e4d51" textLength="23.5" lengthAdjust="spacingAndGlyphs">1,33</text>
<text x="820.9" y="695.6" font-size="10.8" fill="#3f7e84" text-anchor="end" textLength="19.5" lengthAdjust="spacingAndGlyphs">1,24</text>
<line x1="785.6" y1="717.8" x2="787.2" y2="717.8" stroke="#a33030" stroke-width="1.1"/>
<path d="M791.7,714.6 L787.7,717.8 L791.7,721.0" fill="none" stroke="#a33030" stroke-width="1"/>
<circle cx="785.6" cy="717.8" r="2.6" fill="#8eaaa9" stroke="#6d8f8e" stroke-width="0.6"/>
<circle cx="784.7" cy="717.8" r="3.1" fill="#1f4e52"/>
<text x="794.6" y="722.8" font-size="13" fill="#1e4d51" textLength="23.5" lengthAdjust="spacingAndGlyphs">0,78</text>
<text x="779.3" y="720.5" font-size="10.8" fill="#3f7e84" text-anchor="end" textLength="19.5" lengthAdjust="spacingAndGlyphs">0,79</text>
<line x1="731.9" y1="742.9" x2="857.7" y2="742.9" stroke="#2e7f2a" stroke-width="1.1"/>
<path d="M853.2,739.6 L857.2,742.9 L853.2,746.1" fill="none" stroke="#2e7f2a" stroke-width="1"/>
<circle cx="731.9" cy="742.9" r="2.6" fill="#8eaaa9" stroke="#6d8f8e" stroke-width="0.6"/>
<circle cx="860.2" cy="742.9" r="3.1" fill="#1f4e52"/>
<text x="865.8" y="745.6" font-size="13" fill="#1e4d51" textLength="23.5" lengthAdjust="spacingAndGlyphs">1,61</text>
<text x="725.3" y="745.6" font-size="10.8" fill="#3f7e84" text-anchor="end" textLength="19.5" lengthAdjust="spacingAndGlyphs">0,20</text>
<line x1="715.5" y1="767.9" x2="717.1" y2="767.9" stroke="#a33030" stroke-width="1.1"/>
<path d="M721.6,764.7 L717.6,767.9 L721.6,771.1" fill="none" stroke="#a33030" stroke-width="1"/>
<circle cx="715.5" cy="767.9" r="2.6" fill="#8eaaa9" stroke="#6d8f8e" stroke-width="0.6"/>
<circle cx="714.6" cy="767.9" r="3.1" fill="#1f4e52"/>
<text x="723.4" y="771.1" font-size="13" fill="#1e4d51" textLength="23.5" lengthAdjust="spacingAndGlyphs">0,01</text>
<text x="708.7" y="770.6" font-size="10.8" fill="#3f7e84" text-anchor="end" textLength="19.5" lengthAdjust="spacingAndGlyphs">0,02</text>
<circle cx="768.4" cy="792.3" r="2.6" fill="#8eaaa9" stroke="#6d8f8e" stroke-width="0.6"/>
<text x="774.2" y="796.4" font-size="10" fill="#505050" textLength="40.9" lengthAdjust="spacingAndGlyphs">mai 2025</text>
<circle cx="841.3" cy="792.3" r="3.1" fill="#1f4e52"/>
<text x="847.9" y="796.4" font-size="10" fill="#505050" textLength="46.3" lengthAdjust="spacingAndGlyphs">iunie 2025</text>
<text x="503.0" y="818.7" font-size="10.8" fill="#1a1a1a" textLength="172.7" lengthAdjust="spacingAndGlyphs">* comparativ cu luna precedentă</text>
<text x="1206.5" y="50.9" font-size="16" fill="#1a1a1a" textLength="236.8" lengthAdjust="spacingAndGlyphs">Structura depozitelor pe valute</text>
<line x1="1206.8" y1="53.1" x2="1445.8" y2="53.1" stroke="#1a1a1a" stroke-width="1.3"/>
<text x="984.0" y="71.9" font-size="12.5" fill="#1a1a1a" textLength="434.9" lengthAdjust="spacingAndGlyphs">Depozitele noi atrase de la persoanele juridice în moneda națională s-au</text>
<text x="984.0" y="87.1" font-size="12.5" fill="#1a1a1a" textLength="250.0" lengthAdjust="spacingAndGlyphs">diminuat, iar cele în valută s-au majorat*.</text>
<rect x="1024.3" y="101.7" width="363.6" height="24.2" fill="#aab4a2"/>
<text x="1156.2" y="118.5" font-size="12.5" fill="#1a1a1a" textLength="104.8" lengthAdjust="spacingAndGlyphs">total 832,1 mil. lei</text>
<text x="1264.2" y="118.5" font-size="12.5" fill="#c8141e" textLength="50.8" lengthAdjust="spacingAndGlyphs">(-15,5%)</text>
<rect x="1024.3" y="125.8" width="290.9" height="23.8" fill="#58251f"/>
<rect x="1315.2" y="125.8" width="72.5" height="23.8" fill="#1f5154"/>
<text x="1151.2" y="143.3" font-size="12.5" fill="#eadfcf" textLength="37.3" lengthAdjust="spacingAndGlyphs">80,0%</text>
<text x="1331.5" y="143.3" font-size="12.5" fill="#eadfcf" textLength="37.0" lengthAdjust="spacingAndGlyphs">20,0%</text>
<circle cx="998.2" cy="138.4" r="16.3" fill="#5b2620"/>
<circle cx="998.2" cy="138.4" r="14.4" fill="none" stroke="#8d5f58" stroke-width="0.9"/>
<text x="998.2" y="141.7" font-size="8.9" fill="#f4eeee" text-anchor="middle" textLength="22.6" lengthAdjust="spacingAndGlyphs" style="font-family:'DejaVu Sans',sans-serif;font-weight:700">MDL</text>
<circle cx="1421.5" cy="133.2" r="11.3" fill="#fafafa"/>
<circle cx="1421.5" cy="133.2" r="10.6" fill="#1f5257"/>
<circle cx="1421.5" cy="133.2" r="9.5" fill="none" stroke="#4b7c80" stroke-width="0.8"/>
<text x="1421.8" y="137.8" font-size="14" fill="#eef3f2" text-anchor="middle">¥</text>
<circle cx="1400.5" cy="136.1" r="11.3" fill="#fafafa"/>
<circle cx="1400.5" cy="136.1" r="10.6" fill="#1f5257"/>
<circle cx="1400.5" cy="136.1" r="9.5" fill="none" stroke="#4b7c80" stroke-width="0.8"/>
<text x="1399.8" y="142.0" font-size="16.5" fill="#eef3f2" text-anchor="middle">€</text>
<circle cx="1413.9" cy="146.0" r="11.3" fill="#fafafa"/>
<circle cx="1413.9" cy="146.0" r="10.6" fill="#1f5257"/>
<circle cx="1413.9" cy="146.0" r="9.5" fill="none" stroke="#4b7c80" stroke-width="0.8"/>
<text x="1413.9" y="151.9" font-size="17" fill="#eef3f2" text-anchor="middle" font-weight="400">$</text>
<text x="1025.2" y="167.5" font-size="10" fill="#1a1a1a" textLength="30.4" lengthAdjust="spacingAndGlyphs">mil. lei</text>
<text x="1243.5" y="162.5" font-size="10" fill="#1a1a1a" textLength="30.4" lengthAdjust="spacingAndGlyphs">mil. lei</text>
<text x="1001.7" y="187.7" font-size="10.5" fill="#505050" textLength="46.9" lengthAdjust="spacingAndGlyphs">iunie 2025</text>
<text x="1007.7" y="208.7" font-size="10.5" fill="#505050" textLength="40.9" lengthAdjust="spacingAndGlyphs">mai 2025</text>
<text x="1006.6" y="230.7" font-size="10.5" fill="#505050" textLength="42.0" lengthAdjust="spacingAndGlyphs">dinamica</text>
<rect x="1057.3" y="175.2" width="23.7" height="18.6" fill="#58251f"/>
<text x="1083.9" y="187.7" font-size="11.5" fill="#4a3a30" textLength="28.2" lengthAdjust="spacingAndGlyphs">665,8</text>
<rect x="1057.3" y="196.0" width="28.5" height="19.8" fill="#9c7b76"/>
<text x="1089.9" y="209.6" font-size="11.5" fill="#4a3a30" textLength="27.7" lengthAdjust="spacingAndGlyphs">820,2</text>
<path d="M1089.2,224.3 L1082.6,228 L1089.2,231.7" fill="none" stroke="#a32a2a" stroke-width="2"/>
<text x="1093.8" y="231.5" font-size="13.5" fill="#c8141e" textLength="40.7" lengthAdjust="spacingAndGlyphs">-18,8%</text>
<rect x="1243.2" y="175.2" width="8.7" height="18.2" fill="#1f5154"/>
<text x="1254.9" y="186.8" font-size="11.5" fill="#2a5a60" textLength="27.1" lengthAdjust="spacingAndGlyphs">166,3</text>
<rect x="1243.2" y="196.0" width="8.7" height="19.1" fill="#7a9a9d"/>
<text x="1256.0" y="209.6" font-size="11.5" fill="#2a5a60" textLength="26.5" lengthAdjust="spacingAndGlyphs">164,7</text>
<path d="M1244.5,222.6 L1251.2,226.7 L1244.5,230.8" fill="none" stroke="#2f7d22" stroke-width="2"/>
<text x="1257.5" y="230.0" font-size="13.5" fill="#2f7d22" textLength="35.5" lengthAdjust="spacingAndGlyphs">+1,0%</text>
<text x="1278.4" y="264.5" font-size="16" fill="#1a1a1a" textLength="161.6" lengthAdjust="spacingAndGlyphs">Depozite pe scadențe</text>
<line x1="1278.7" y1="266.7" x2="1441.8" y2="266.7" stroke="#1a1a1a" stroke-width="1.3"/>
<text x="981.4" y="290.1" font-size="12.5" fill="#1a1a1a" textLength="419.0" lengthAdjust="spacingAndGlyphs">Persoanele juridice, în mare parte, și-au plasat fondurile în conturi de</text>
<text x="981.4" y="306.5" font-size="12.5" fill="#1a1a1a" textLength="187.6" lengthAdjust="spacingAndGlyphs">depozit cu scadențe de 2–5 ani.</text>
<text x="985.5" y="353.4" font-size="12.5" fill="#1a1a1a" textLength="84.2" lengthAdjust="spacingAndGlyphs">volum, mil. lei</text>
<circle cx="1097.0" cy="347.1" r="16.3" fill="#5b2620"/>
<circle cx="1097.0" cy="347.1" r="14.4" fill="none" stroke="#8d5f58" stroke-width="0.9"/>
<text x="1097.0" y="350.4" font-size="8.9" fill="#f4eeee" text-anchor="middle" textLength="22.6" lengthAdjust="spacingAndGlyphs" style="font-family:'DejaVu Sans',sans-serif;font-weight:700">MDL</text>
<text x="1352.0" y="348.2" font-size="12.5" fill="#1a1a1a" textLength="92.8" lengthAdjust="spacingAndGlyphs">ratele medii, %</text>
<line x1="1169.4" y1="376.3" x2="1169.4" y2="538.8" stroke="#d8d8d8" stroke-width="0.9"/>
<rect x="1107.5" y="378.0" width="1.3" height="19.6" fill="#5b2226"/>
<rect x="1071.1" y="401.6" width="37.7" height="19.6" fill="#5b2226"/>
<rect x="1100.0" y="425.1" width="8.8" height="19.6" fill="#5b2226"/>
<rect x="1107.1" y="448.6" width="1.7" height="19.6" fill="#5b2226"/>
<rect x="1107.5" y="472.2" width="1.3" height="19.6" fill="#5b2226"/>
<rect x="1105.4" y="495.8" width="3.4" height="19.6" fill="#5b2226"/>
<rect x="1107.5" y="519.3" width="1.3" height="19.6" fill="#5b2226"/>
<text x="1132.0" y="391.0" font-size="10.8" fill="#4a4a4a" textLength="28.1" lengthAdjust="spacingAndGlyphs">&gt; 5 ani</text>
<text x="1125.1" y="414.3" font-size="10.8" fill="#4a4a4a" textLength="35.0" lengthAdjust="spacingAndGlyphs">2 - 5 ani</text>
<text x="1126.6" y="437.7" font-size="10.8" fill="#4a4a4a" textLength="33.5" lengthAdjust="spacingAndGlyphs">1 - 2 ani</text>
<text x="1117.3" y="461.0" font-size="10.8" fill="#4a4a4a" textLength="42.8" lengthAdjust="spacingAndGlyphs">6 - 12 luni</text>
<text x="1120.5" y="484.3" font-size="10.8" fill="#4a4a4a" textLength="39.6" lengthAdjust="spacingAndGlyphs">3 - 6 luni</text>
<text x="1122.6" y="507.6" font-size="10.8" fill="#4a4a4a" textLength="37.5" lengthAdjust="spacingAndGlyphs">1 - 3 luni</text>
<text x="1127.2" y="531.0" font-size="10.8" fill="#4a4a4a" textLength="32.9" lengthAdjust="spacingAndGlyphs">&lt; 1 lună</text>
<text x="1087.4" y="391.0" font-size="11" fill="#4a3a30" textLength="16.9" lengthAdjust="spacingAndGlyphs">0,0</text>
<text x="1041.7" y="414.7" font-size="11" fill="#4a3a30" textLength="26.5" lengthAdjust="spacingAndGlyphs">471,9</text>
<text x="1071.0" y="438.8" font-size="11" fill="#4a3a30" textLength="24.9" lengthAdjust="spacingAndGlyphs">110,3</text>
<text x="1085.3" y="462.3" font-size="11" fill="#4a3a30" textLength="19.0" lengthAdjust="spacingAndGlyphs">21,7</text>
<text x="1084.8" y="485.7" font-size="11" fill="#4a3a30" textLength="19.7" lengthAdjust="spacingAndGlyphs">15,3</text>
<text x="1078.6" y="509.4" font-size="11" fill="#4a3a30" textLength="21.5" lengthAdjust="spacingAndGlyphs">42,6</text>
<text x="1090.5" y="532.5" font-size="11" fill="#4a3a30" textLength="14.4" lengthAdjust="spacingAndGlyphs">4,1</text>
<circle cx="1226.3" cy="387.7" r="3.1" fill="#5c2320"/>
<text x="1220.2" y="391.7" font-size="13" fill="#3b3b3b" text-anchor="end" textLength="23.5" lengthAdjust="spacingAndGlyphs">0,50</text>
<line x1="1338.7" y1="411.1" x2="1311.6" y2="411.1" stroke="#a33030" stroke-width="1.1"/>
<path d="M1316.1,407.9 L1312.1,411.1 L1316.1,414.3" fill="none" stroke="#a33030" stroke-width="1"/>
<circle cx="1338.7" cy="411.1" r="2.6" fill="#b49590" stroke="#8f6e68" stroke-width="0.6"/>
<circle cx="1309.1" cy="411.1" r="3.1" fill="#5c2320"/>
<text x="1303.3" y="415.1" font-size="13" fill="#3b3b3b" text-anchor="end" textLength="23.5" lengthAdjust="spacingAndGlyphs">3,38</text>
<text x="1344.8" y="413.3" font-size="10.8" fill="#3b3b3b" textLength="19.5" lengthAdjust="spacingAndGlyphs">4,41</text>
<line x1="1306.8" y1="434.5" x2="1311.8" y2="434.5" stroke="#2e7f2a" stroke-width="1.1"/>
<path d="M1307.3,431.3 L1311.3,434.5 L1307.3,437.7" fill="none" stroke="#2e7f2a" stroke-width="1"/>
<circle cx="1306.8" cy="434.5" r="2.6" fill="#b49590" stroke="#8f6e68" stroke-width="0.6"/>
<circle cx="1314.3" cy="434.5" r="3.1" fill="#5c2320"/>
<text x="1320.9" y="438.9" font-size="13" fill="#3b3b3b" textLength="23.5" lengthAdjust="spacingAndGlyphs">3,56</text>
<text x="1301.7" y="436.7" font-size="10.8" fill="#3b3b3b" text-anchor="end" textLength="19.5" lengthAdjust="spacingAndGlyphs">3,30</text>
<line x1="1394.0" y1="457.8" x2="1329.4" y2="457.8" stroke="#a33030" stroke-width="1.1"/>
<path d="M1333.9,454.6 L1329.9,457.8 L1333.9,461.0" fill="none" stroke="#a33030" stroke-width="1"/>
<circle cx="1394.0" cy="457.8" r="2.6" fill="#b49590" stroke="#8f6e68" stroke-width="0.6"/>
<circle cx="1326.9" cy="457.8" r="3.1" fill="#5c2320"/>
<text x="1322.1" y="460.5" font-size="13" fill="#3b3b3b" text-anchor="end" textLength="23.5" lengthAdjust="spacingAndGlyphs">4,00</text>
<text x="1401.3" y="460.0" font-size="10.8" fill="#3b3b3b" textLength="19.5" lengthAdjust="spacingAndGlyphs">6,33</text>
<line x1="1269.4" y1="481.2" x2="1286.2" y2="481.2" stroke="#2e7f2a" stroke-width="1.1"/>
<path d="M1281.7,478.0 L1285.7,481.2 L1281.7,484.4" fill="none" stroke="#2e7f2a" stroke-width="1"/>
<circle cx="1269.4" cy="481.2" r="2.6" fill="#b49590" stroke="#8f6e68" stroke-width="0.6"/>
<circle cx="1288.7" cy="481.2" r="3.1" fill="#5c2320"/>
<text x="1293.2" y="485.2" font-size="13" fill="#3b3b3b" textLength="23.5" lengthAdjust="spacingAndGlyphs">2,67</text>
<text x="1264.1" y="484.5" font-size="10.8" fill="#3b3b3b" text-anchor="end" textLength="19.5" lengthAdjust="spacingAndGlyphs">2,00</text>
<line x1="1263.4" y1="504.6" x2="1297.7" y2="504.6" stroke="#2e7f2a" stroke-width="1.1"/>
<path d="M1293.2,501.4 L1297.2,504.6 L1293.2,507.8" fill="none" stroke="#2e7f2a" stroke-width="1"/>
<circle cx="1263.4" cy="504.6" r="2.6" fill="#b49590" stroke="#8f6e68" stroke-width="0.6"/>
<circle cx="1300.2" cy="504.6" r="3.1" fill="#5c2320"/>
<text x="1304.9" y="508.6" font-size="13" fill="#3b3b3b" textLength="23.5" lengthAdjust="spacingAndGlyphs">3,07</text>
<text x="1258.3" y="506.3" font-size="10.8" fill="#3b3b3b" text-anchor="end" textLength="19.5" lengthAdjust="spacingAndGlyphs">1,79</text>
<line x1="1240.7" y1="528.0" x2="1252.5" y2="528.0" stroke="#2e7f2a" stroke-width="1.1"/>
<path d="M1248.0,524.8 L1252.0,528.0 L1248.0,531.2" fill="none" stroke="#2e7f2a" stroke-width="1"/>
<circle cx="1240.7" cy="528.0" r="2.6" fill="#b49590" stroke="#8f6e68" stroke-width="0.6"/>
<circle cx="1255.0" cy="528.0" r="3.1" fill="#5c2320"/>
<text x="1261.3" y="531.8" font-size="13" fill="#3b3b3b" textLength="23.5" lengthAdjust="spacingAndGlyphs">1,50</text>
<text x="1235.7" y="531.8" font-size="10.8" fill="#3b3b3b" text-anchor="end" textLength="19.5" lengthAdjust="spacingAndGlyphs">1,00</text>
<circle cx="1255.3" cy="544.4" r="2.6" fill="#b49590" stroke="#8f6e68" stroke-width="0.6"/>
<text x="1261.7" y="548.4" font-size="10" fill="#505050" textLength="40.2" lengthAdjust="spacingAndGlyphs">mai 2025</text>
<circle cx="1330.0" cy="544.4" r="3.1" fill="#5c2320"/>
<text x="1335.5" y="548.4" font-size="10" fill="#505050" textLength="45.6" lengthAdjust="spacingAndGlyphs">iunie 2025</text>
<text x="984.4" y="583.8" font-size="12.5" fill="#1a1a1a" textLength="84.5" lengthAdjust="spacingAndGlyphs">volum, mil. lei</text>
<circle cx="1102.5" cy="568.3" r="11.3" fill="#fafafa"/>
<circle cx="1102.5" cy="568.3" r="10.6" fill="#1f5257"/>
<circle cx="1102.5" cy="568.3" r="9.5" fill="none" stroke="#4b7c80" stroke-width="0.8"/>
<text x="1102.8" y="572.9" font-size="14" fill="#eef3f2" text-anchor="middle">¥</text>
<circle cx="1081.5" cy="571.2" r="11.3" fill="#fafafa"/>
<circle cx="1081.5" cy="571.2" r="10.6" fill="#1f5257"/>
<circle cx="1081.5" cy="571.2" r="9.5" fill="none" stroke="#4b7c80" stroke-width="0.8"/>
<text x="1080.8" y="577.1" font-size="16.5" fill="#eef3f2" text-anchor="middle">€</text>
<circle cx="1094.9" cy="581.1" r="11.3" fill="#fafafa"/>
<circle cx="1094.9" cy="581.1" r="10.6" fill="#1f5257"/>
<circle cx="1094.9" cy="581.1" r="9.5" fill="none" stroke="#4b7c80" stroke-width="0.8"/>
<text x="1094.9" y="587.0" font-size="17" fill="#eef3f2" text-anchor="middle" font-weight="400">$</text>
<text x="1348.9" y="587.2" font-size="12.5" fill="#1a1a1a" textLength="93.0" lengthAdjust="spacingAndGlyphs">ratele medii, %</text>
<line x1="1169.3" y1="608.0" x2="1169.3" y2="782.1" stroke="#d8d8d8" stroke-width="0.9"/>
<rect x="1104.5" y="608.0" width="1.3" height="21.6" fill="#1f5154"/>
<rect x="1089.9" y="633.0" width="15.9" height="21.6" fill="#1f5154"/>
<rect x="1101.3" y="658.1" width="4.5" height="21.6" fill="#1f5154"/>
<rect x="1104.5" y="683.1" width="1.3" height="21.6" fill="#1f5154"/>
<rect x="1104.5" y="733.1" width="1.3" height="21.6" fill="#1f5154"/>
<rect x="1104.5" y="758.2" width="1.3" height="21.6" fill="#1f5154"/>
<text x="1132.6" y="622.8" font-size="10.8" fill="#4a4a4a" textLength="28.1" lengthAdjust="spacingAndGlyphs">&gt; 5 ani</text>
<text x="1125.3" y="647.8" font-size="10.8" fill="#4a4a4a" textLength="35.4" lengthAdjust="spacingAndGlyphs">2 - 5 ani</text>
<text x="1126.4" y="672.7" font-size="10.8" fill="#4a4a4a" textLength="34.3" lengthAdjust="spacingAndGlyphs">1 - 2 ani</text>
<text x="1118.0" y="697.6" font-size="10.8" fill="#4a4a4a" textLength="42.7" lengthAdjust="spacingAndGlyphs">6 - 12 luni</text>
<text x="1121.4" y="722.6" font-size="10.8" fill="#4a4a4a" textLength="39.3" lengthAdjust="spacingAndGlyphs">3 - 6 luni</text>
<text x="1123.0" y="747.5" font-size="10.8" fill="#4a4a4a" textLength="37.7" lengthAdjust="spacingAndGlyphs">1 - 3 luni</text>
<text x="1127.6" y="772.5" font-size="10.8" fill="#4a4a4a" textLength="33.1" lengthAdjust="spacingAndGlyphs">&lt; 1 lună</text>
<text x="1086.1" y="622.3" font-size="11" fill="#1f5a5e" textLength="15.6" lengthAdjust="spacingAndGlyphs">0,2</text>
<text x="1065.0" y="647.3" font-size="11" fill="#1f5a5e" textLength="24.2" lengthAdjust="spacingAndGlyphs">125,1</text>
<text x="1075.2" y="671.7" font-size="11" fill="#1f5a5e" textLength="22.4" lengthAdjust="spacingAndGlyphs">35,4</text>
<text x="1085.5" y="697.4" font-size="11" fill="#1f5a5e" textLength="16.2" lengthAdjust="spacingAndGlyphs">2,9</text>
<text x="1086.1" y="747.9" font-size="11" fill="#1f5a5e" textLength="15.6" lengthAdjust="spacingAndGlyphs">2,2</text>
<text x="1086.1" y="773.0" font-size="11" fill="#1f5a5e" textLength="15.6" lengthAdjust="spacingAndGlyphs">0,7</text>
<circle cx="1229.9" cy="619.8" r="3.1" fill="#1f4e52"/>
<text x="1235.2" y="623.2" font-size="13" fill="#1e4d51" textLength="23.5" lengthAdjust="spacingAndGlyphs">0,35</text>
<line x1="1355.1" y1="644.8" x2="1358.3" y2="644.8" stroke="#2e7f2a" stroke-width="1.1"/>
<path d="M1353.8,641.6 L1357.8,644.8 L1353.8,648.0" fill="none" stroke="#2e7f2a" stroke-width="1"/>
<circle cx="1355.1" cy="644.8" r="2.6" fill="#8eaaa9" stroke="#6d8f8e" stroke-width="0.6"/>
<circle cx="1360.8" cy="644.8" r="3.1" fill="#1f4e52"/>
<text x="1366.6" y="648.6" font-size="13" fill="#1e4d51" textLength="23.5" lengthAdjust="spacingAndGlyphs">2,17</text>
<text x="1352.2" y="648.1" font-size="10.8" fill="#3f7e84" text-anchor="end" textLength="19.5" lengthAdjust="spacingAndGlyphs">2,09</text>
<circle cx="1319.8" cy="669.9" r="3.1" fill="#1f4e52"/>
<text x="1324.1" y="673.8" font-size="13" fill="#1e4d51" textLength="23.5" lengthAdjust="spacingAndGlyphs">1,60</text>
<line x1="1258.7" y1="694.9" x2="1311.6" y2="694.9" stroke="#2e7f2a" stroke-width="1.1"/>
<path d="M1307.1,691.7 L1311.1,694.9 L1307.1,698.1" fill="none" stroke="#2e7f2a" stroke-width="1"/>
<circle cx="1258.7" cy="694.9" r="2.6" fill="#8eaaa9" stroke="#6d8f8e" stroke-width="0.6"/>
<circle cx="1314.1" cy="694.9" r="3.1" fill="#1f4e52"/>
<text x="1320.2" y="699.3" font-size="13" fill="#1e4d51" textLength="23.5" lengthAdjust="spacingAndGlyphs">1,52</text>
<text x="1252.0" y="698.2" font-size="10.8" fill="#3f7e84" text-anchor="end" textLength="19.5" lengthAdjust="spacingAndGlyphs">0,75</text>
<circle cx="1309.0" cy="719.9" r="2.6" fill="#8eaaa9" stroke="#6d8f8e" stroke-width="0.6"/>
<text x="1313.8" y="721.9" font-size="10.8" fill="#3f7e84" textLength="19.5" lengthAdjust="spacingAndGlyphs">1,45</text>
<line x1="1312.6" y1="744.9" x2="1264.8" y2="744.9" stroke="#a33030" stroke-width="1.1"/>
<path d="M1269.3,741.7 L1265.3,744.9 L1269.3,748.1" fill="none" stroke="#a33030" stroke-width="1"/>
<circle cx="1312.6" cy="744.9" r="2.6" fill="#8eaaa9" stroke="#6d8f8e" stroke-width="0.6"/>
<circle cx="1262.3" cy="744.9" r="3.1" fill="#1f4e52"/>
<text x="1258.2" y="748.8" font-size="13" fill="#1e4d51" text-anchor="end" textLength="23.5" lengthAdjust="spacingAndGlyphs">0,80</text>
<text x="1316.3" y="748.8" font-size="10.8" fill="#3f7e84" textLength="19.5" lengthAdjust="spacingAndGlyphs">1,50</text>
<circle cx="1208.3" cy="770.0" r="3.1" fill="#1f4e52"/>
<text x="1187.6" y="762.8" font-size="13" fill="#1e4d51" textLength="23.5" lengthAdjust="spacingAndGlyphs">0,05</text>
<text x="1214.6" y="775.6" font-size="10.8" fill="#3f7e84" textLength="19.5" lengthAdjust="spacingAndGlyphs">0,05</text>
<circle cx="1246.6" cy="801.4" r="2.6" fill="#8eaaa9" stroke="#6d8f8e" stroke-width="0.6"/>
<text x="1252.7" y="804.7" font-size="10" fill="#505050" textLength="40.8" lengthAdjust="spacingAndGlyphs">mai 2025</text>
<circle cx="1320.5" cy="801.4" r="3.1" fill="#1f4e52"/>
<text x="1326.1" y="804.7" font-size="10" fill="#505050" textLength="46.4" lengthAdjust="spacingAndGlyphs">iunie 2025</text>
<text x="991.1" y="816.1" font-size="10.8" fill="#1a1a1a" textLength="172.8" lengthAdjust="spacingAndGlyphs">* comparativ cu luna precedentă</text>
</svg></body></html>
